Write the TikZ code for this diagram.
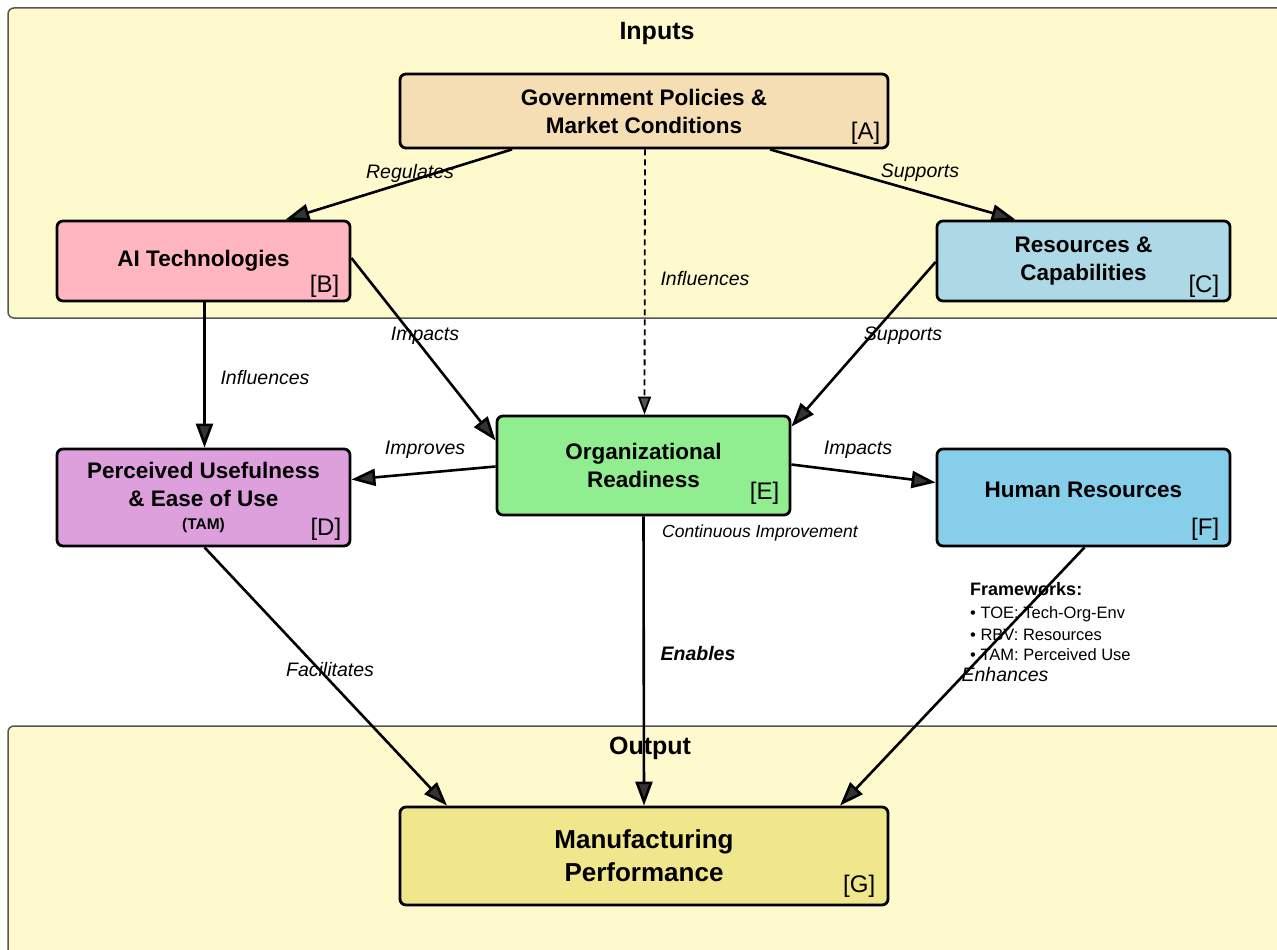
\documentclass[tikz,border=0pt]{standalone}
\usepackage{fontspec}
\setmainfont{Liberation Sans}
\usetikzlibrary{arrows.meta,positioning,calc}
\definecolor{clusterfill}{HTML}{FFFACD}
\definecolor{clusterline}{HTML}{555555}
\definecolor{cA}{HTML}{F5DEB3}
\definecolor{cB}{HTML}{FFB6C1}
\definecolor{cC}{HTML}{ADD8E6}
\definecolor{cD}{HTML}{DDA0DD}
\definecolor{cE}{HTML}{90EE90}
\definecolor{cF}{HTML}{87CEEB}
\definecolor{cG}{HTML}{F0E68C}
\definecolor{headfill}{HTML}{333333}
\definecolor{dashhead}{HTML}{555555}
\begin{document}
\begin{tikzpicture}[x=1pt,y=-1pt,
  cluster/.style={draw=clusterline,line width=1.5pt,fill=clusterfill,rounded corners=6pt},
  ctitle/.style={font=\fontsize{25}{28}\selectfont\bfseries},
  box/.style={draw=black,line width=2.8pt,rounded corners=6pt,align=center,
    font=\fontsize{22.5}{28}\selectfont\bfseries,inner sep=0pt},
  tag/.style={font=\fontsize{24}{26}\selectfont,anchor=south east,inner sep=0pt},
  arr/.style={line width=2.6pt,-{Triangle[length=24pt,width=17pt,fill=headfill]}},
  darr/.style={line width=1.8pt,dash pattern=on 6pt off 4pt,-{Triangle[length=18pt,width=13pt,fill=dashhead]}},
  lbl/.style={font=\fontsize{19.5}{22}\selectfont\itshape,inner sep=1pt},
  fw/.style={font=\fontsize{16.5}{19}\selectfont,anchor=west,inner sep=0pt}
]
\useasboundingbox (0,0) rectangle (1277,950);
\fill[white] (0,0) rectangle (1277,950);
% clusters
\draw[cluster] (8,8) rectangle (1295,318);
\node[ctitle] (tin) at (657,33) {Inputs};
\draw[cluster] (8,726) rectangle (1295,965);

% nodes
\node[box,fill=cA,minimum width=488pt,minimum height=74pt] (A) at (644,111)
  {Government Policies \&\\Market Conditions};
\node[box,fill=cB,minimum width=293pt,minimum height=80pt] (B) at (203.5,261)
  {AI Technologies};
\node[box,fill=cC,minimum width=293pt,minimum height=80pt] (C) at (1083.5,261)
  {Resources \&\\Capabilities};
\node[box,fill=cE,minimum width=293pt,minimum height=99pt] (E) at (643.5,465.5)
  {Organizational\\Readiness};
\node[box,fill=cD,minimum width=293pt,minimum height=97pt] (D) at (203.5,497.5)
  {Perceived Usefulness\\\& Ease of Use\\[-5pt]{\fontsize{15.5}{18}\selectfont (TAM)}};
\node[box,fill=cF,minimum width=293pt,minimum height=97pt] (F) at (1083.5,497.5)
  {\raisebox{16pt}{Human Resources}};
\node[box,fill=cG,minimum width=488pt,minimum height=98pt,
  font=\fontsize{26}{33}\selectfont\bfseries] (G) at (644,856)
  {Manufacturing\\Performance};

\node[ctitle] (tout) at (650,748) {Output};

% tags
\node[tag] (tA) at ([xshift=-9pt,yshift=5pt]A.south east) {[A]};
\node[tag] (tB) at ([xshift=-12pt,yshift=5pt]B.south east) {[B]};
\node[tag] (tC) at ([xshift=-12pt,yshift=5pt]C.south east) {[C]};
\node[tag] (tD) at ([xshift=-10pt,yshift=7pt]D.south east) {[D]};
\node[tag] (tE) at ([xshift=-12pt,yshift=12pt]E.south east) {[E]};
\node[tag] (tF) at ([xshift=-12pt,yshift=7pt]F.south east) {[F]};
\node[tag] (tG) at ([xshift=-14pt,yshift=9pt]G.south east) {[G]};

% edges
\draw[arr] ([xshift=-132pt]A.south) -- ([xshift=82pt]B.north);
\draw[arr] ([xshift=126pt]A.south) -- ([xshift=-68pt]C.north);
\draw[darr] ([xshift=1pt]A.south) -- ([xshift=1pt]E.north);
\draw[arr] ([yshift=3pt]B.east) -- ([yshift=25pt]E.west);
\draw[arr] ([yshift=-1pt]C.west) -- ([yshift=-12pt]E.north east);
\draw[arr] ([xshift=1pt]B.south) -- ([xshift=1pt]D.north);
\draw[arr] ([yshift=-1pt]E.west) -- ([yshift=18pt]D.east);
\draw[arr] ([yshift=1pt]E.east) -- ([yshift=15pt]F.west);
\draw[arr] ([xshift=1pt]D.south) -- ([xshift=-197pt]G.north);
\draw[arr] (E.south) -- (G.north);
\draw[arr] ([xshift=1pt]F.south) -- ([xshift=196pt]G.north);

% labels
\node[lbl] (l1) at (410,173) {Regulates};
\node[lbl] (l2) at (920,173) {Supports};
\node[lbl] (l3) at (705,279) {Influences};
\node[lbl] (l4) at (425,336) {Impacts};
\node[lbl] (l5) at (903,336) {Supports};
\node[lbl] (l6) at (265,378) {Influences};
\node[lbl] (l7) at (425,450) {Improves};
\node[lbl] (l8) at (858,450) {Impacts};
\node[lbl,font=\fontsize{17.5}{20}\selectfont\itshape] (l9) at (760,533) {Continuous Improvement};
\node[lbl] (l10) at (330,670) {Facilitates};
\node[lbl,font=\fontsize{19.5}{22}\selectfont\itshape\bfseries] (l11) at (698,654) {Enables};
\node[lbl] (l12) at (1005,675) {Enhances};

% frameworks note
\node[fw,font=\fontsize{18}{20}\selectfont\bfseries] (fw0) at (970,589) {Frameworks:};
\node[fw] (fw1) at (970,614) {\textbullet\ TOE: Tech-Org-Env};
\node[fw] (fw2) at (970,635) {\textbullet\ RBV: Resources};
\node[fw] (fw3) at (970,655) {\textbullet\ TAM: Perceived Use};
\end{tikzpicture}
\end{document}
